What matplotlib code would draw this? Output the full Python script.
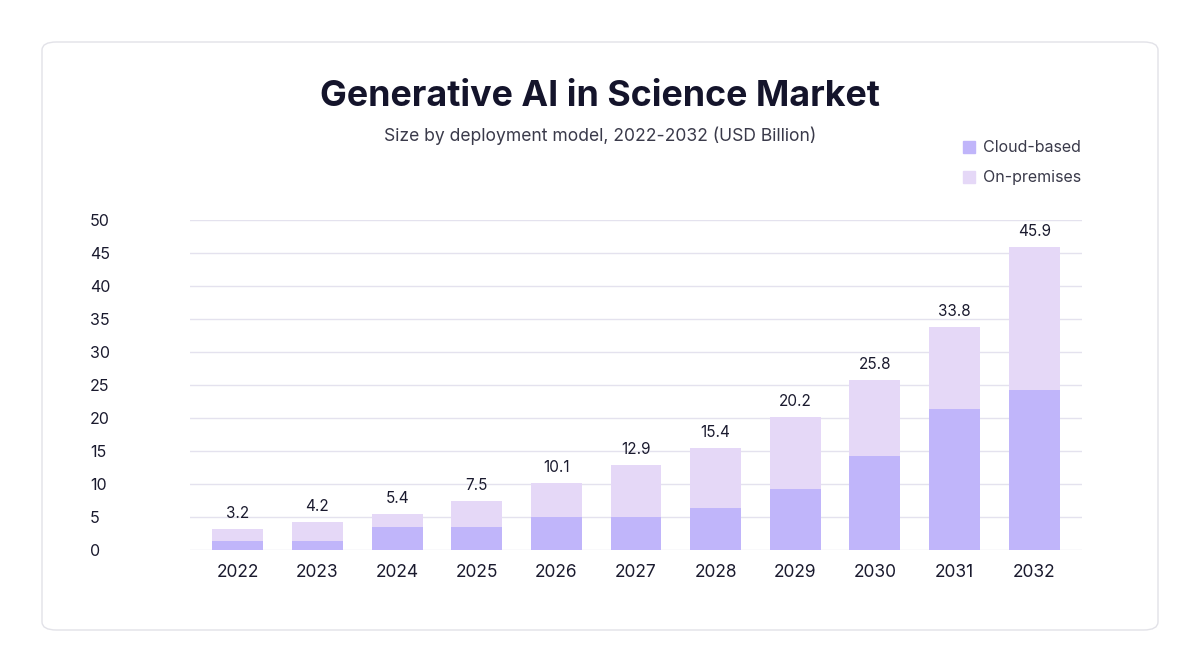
import matplotlib
matplotlib.use("Agg")
import matplotlib.pyplot as plt
from matplotlib.patches import FancyBboxPatch

years = ["2022","2023","2024","2025","2026","2027","2028","2029","2030","2031","2032"]
totals = [3.2, 4.2, 5.4, 7.5, 10.1, 12.9, 15.4, 20.2, 25.8, 33.8, 45.9]
cloud = [1.4, 1.4, 3.5, 3.5, 5.0, 5.0, 6.4, 9.2, 14.2, 21.4, 24.2]
onprem = [t - c for t, c in zip(totals, cloud)]
yticks = [0, 5, 10, 15, 20, 25, 30, 35, 40, 45, 50]

plt.rcParams['font.family'] = ['Inter', 'DejaVu Sans']
W, H = 1200, 672
fig = plt.figure(figsize=(W/100, H/100), dpi=100)
fig.patch.set_facecolor('white')
card = FancyBboxPatch((42/W, 42/H), (1158-42)/W, (630-42)/H,
                      boxstyle="round,pad=0,rounding_size=0.012",
                      transform=fig.transFigure, facecolor='white',
                      edgecolor='#e2e2e8', linewidth=1, zorder=-5)
fig.patches.append(card)

ax = fig.add_axes([190/W, (672-550)/H, (1082-190)/W, (550-220)/H])
ax.set_facecolor('none')
ax.set_zorder(2)
x = range(len(years))
ax.bar(x, cloud, width=0.64, color='#c0b5fa', label='Cloud-based', zorder=2)
ax.bar(x, onprem, bottom=cloud, width=0.64, color='#e5d8f7', label='On-premises', zorder=2)
for i, t in enumerate(totals):
    ax.text(i, t + 1.2, f"{t}", ha='center', va='bottom', fontsize=11, color='#1a1a2e')
ax.set_ylim(0, 50)
ax.set_xlim(-0.6, len(years) - 0.4)
ax.set_yticks(yticks)
ax.set_xticks(list(x))
ax.set_xticklabels(years, fontsize=12.5, color='#1a1a2e')
ax.tick_params(axis='y', labelsize=11.5, colors='#1a1a2e', length=0, pad=72)
ax.tick_params(axis='x', length=0, pad=10)
for lab in ax.get_yticklabels():
    lab.set_horizontalalignment('left')
ax.grid(axis='y', color='#e4e2ee', linewidth=1, zorder=0)
for s in ax.spines.values():
    s.set_visible(False)

fig.text(600/W, 1 - 96/H, "Generative AI in Science Market", ha='center', va='center',
         fontsize=25.8, fontweight='bold', color='#14142b')
fig.text(600/W, 1 - 136/H, "Size by deployment model, 2022-2032 (USD Billion)", ha='center',
         va='center', fontsize=12.6, color='#3a3a4a')
for yy, lab, col in [(147, 'Cloud-based', '#c0b5fa'), (177, 'On-premises', '#e5d8f7')]:
    fig.patches.append(plt.Rectangle((963/W, 1 - (yy + 6)/H), 12/W, 12/H,
                                     transform=fig.transFigure, color=col))
    fig.text(983/W, 1 - yy/H, lab, ha='left', va='center', fontsize=11.5, color='#3a3a4a')

fig.savefig("out.png", dpi=100, facecolor='white')
